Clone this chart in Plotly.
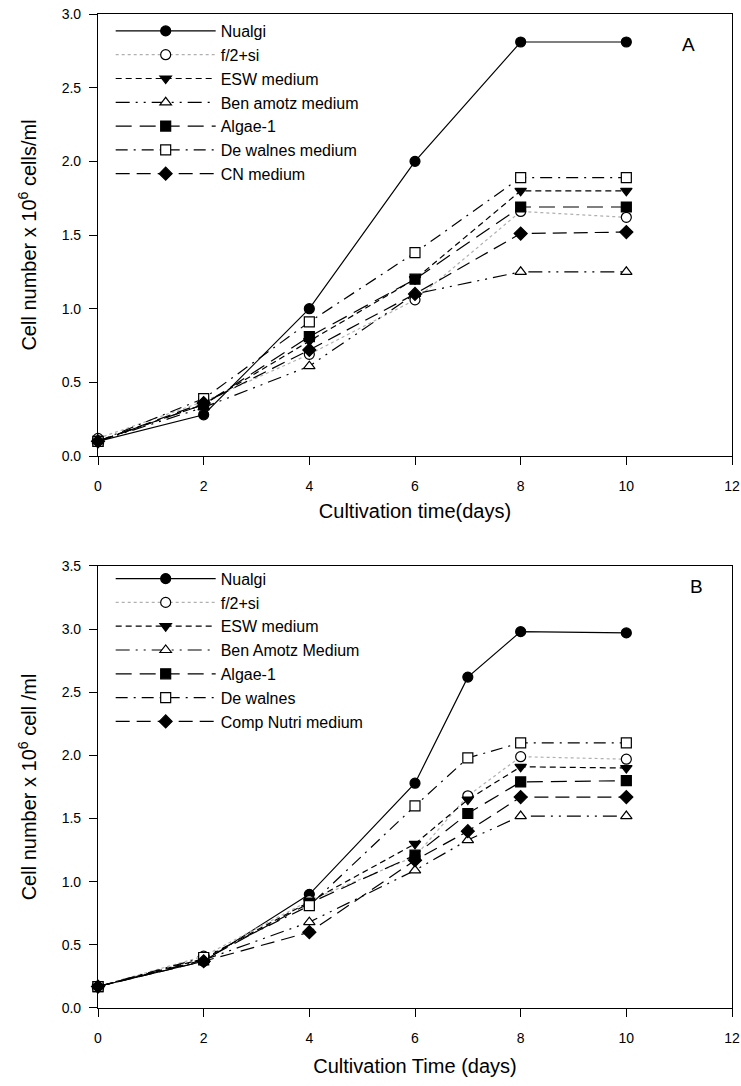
import plotly.graph_objects as go

# ---------------- data ----------------
days_a = [0, 2, 4, 6, 8, 10]
names_a = ["Nualgi", "f/2+si", "ESW medium", "Ben amotz medium", "Algae-1",
           "De walnes medium", "CN medium"]
nualgi_a = [0.10, 0.28, 1.00, 2.00, 2.81, 2.81]
f2si_a = [0.12, 0.37, 0.69, 1.06, 1.66, 1.62]
esw_a = [0.10, 0.35, 0.78, 1.20, 1.80, 1.80]
benamotz_a = [0.10, 0.33, 0.61, 1.10, 1.25, 1.25]
algae1_a = [0.10, 0.35, 0.81, 1.20, 1.69, 1.69]
dewalnes_a = [0.10, 0.39, 0.91, 1.38, 1.89, 1.89]
cn_a = [0.10, 0.36, 0.72, 1.10, 1.51, 1.52]

days_b = [0, 2, 4, 6, 7, 8, 10]
names_b = ["Nualgi", "f/2+si", "ESW medium", "Ben Amotz Medium", "Algae-1",
           "De walnes", "Comp Nutri medium"]
nualgi_b = [0.17, 0.37, 0.90, 1.78, 2.62, 2.98, 2.97]
f2si_b = [0.17, 0.41, 0.85, 1.20, 1.68, 1.99, 1.97]
esw_b = [0.17, 0.39, 0.84, 1.30, 1.65, 1.91, 1.90]
benamotz_b = [0.17, 0.38, 0.68, 1.09, 1.33, 1.52, 1.52]
algae1_b = [0.17, 0.38, 0.83, 1.21, 1.54, 1.79, 1.80]
dewalnes_b = [0.17, 0.40, 0.81, 1.60, 1.98, 2.10, 2.10]
cn_b = [0.17, 0.37, 0.60, 1.17, 1.40, 1.67, 1.67]

x_ticks = [0, 2, 4, 6, 8, 10, 12]
y_ticks_a = [0.0, 0.5, 1.0, 1.5, 2.0, 2.5, 3.0]
y_ticks_b = [0.0, 0.5, 1.0, 1.5, 2.0, 2.5, 3.0, 3.5]

# ---------------- styles ----------------
styles = [
    dict(dash="solid", symbol="circle", fill="black", lcolor="black"),
    dict(dash="dot", symbol="circle", fill="white", lcolor="#b0b0b0"),
    dict(dash="6px,4px", symbol="triangle-down", fill="black", lcolor="black"),
    dict(dash="14px,6px,2px,6px,2px,6px", symbol="triangle-up", fill="white", lcolor="black"),
    dict(dash="16px,8px", symbol="square", fill="black", lcolor="black"),
    dict(dash="12px,6px,2px,6px", symbol="square", fill="white", lcolor="black"),
    dict(dash="14px,7px", symbol="diamond", fill="black", lcolor="black"),
]

FONT = "Liberation Sans, Arial, sans-serif"

fig = go.Figure()

series_a = [nualgi_a, f2si_a, esw_a, benamotz_a, algae1_a, dewalnes_a, cn_a]
series_b = [nualgi_b, f2si_b, esw_b, benamotz_b, algae1_b, dewalnes_b, cn_b]

for name, ys, st in zip(names_a, series_a, styles):
    fig.add_trace(go.Scatter(
        x=days_a, y=ys, name=name, mode="lines+markers",
        line=dict(color=st["lcolor"], width=1.2, dash=st["dash"]),
        marker=dict(symbol=st["symbol"], size=10, color=st["fill"],
                    line=dict(color="black", width=1.2)),
        xaxis="x", yaxis="y", legend="legend", cliponaxis=False))

for name, ys, st in zip(names_b, series_b, styles):
    fig.add_trace(go.Scatter(
        x=days_b, y=ys, name=name, mode="lines+markers",
        line=dict(color=st["lcolor"], width=1.2, dash=st["dash"]),
        marker=dict(symbol=st["symbol"], size=10, color=st["fill"],
                    line=dict(color="black", width=1.2)),
        xaxis="x2", yaxis="y2", legend="legend2", cliponaxis=False))

axis_common = dict(showgrid=False, zeroline=False, showline=True, linecolor="black",
                   linewidth=1.2, mirror=True, ticks="outside", ticklen=8,
                   tickcolor="black", tickwidth=1, ticklabeloverflow="allow",
                   tickfont=dict(family=FONT, size=14, color="black"))

legend_common = dict(font=dict(family=FONT, size=16, color="black"),
                     bgcolor="rgba(0,0,0,0)", itemwidth=100,
                     xanchor="left", yanchor="top", tracegroupgap=0,
                     itemclick=False)

fig.update_layout(
    width=741, height=1086,
    margin=dict(l=98, r=9, t=14, b=78, autoexpand=False),
    paper_bgcolor="white", plot_bgcolor="white",
    font=dict(family=FONT, color="black"),
    xaxis=dict(axis_common, domain=[0, 1], range=[0, 12], tickvals=x_ticks,
               anchor="y", ticklabelstandoff=9,
               title=dict(text="Cultivation time(days)", standoff=11,
                          font=dict(family=FONT, size=20))),
    yaxis=dict(axis_common, domain=[0.5553, 1], range=[0, 3.0], tickvals=y_ticks_a,
               tickformat=".1f", anchor="x", ticklabelstandoff=5,
               title=dict(text="Cell number x 10<sup>6</sup> cells/ml", standoff=19,
                          font=dict(family=FONT, size=20))),
    xaxis2=dict(axis_common, domain=[0, 1], range=[0, 12], tickvals=x_ticks,
                anchor="y2", ticklabelstandoff=9,
                title=dict(text="Cultivation Time (days)", standoff=14,
                           font=dict(family=FONT, size=20))),
    yaxis2=dict(axis_common, domain=[0, 0.4447], range=[0, 3.5], tickvals=y_ticks_b,
                tickformat=".1f", anchor="x2", ticklabelstandoff=5,
                title=dict(text="Cell number x 10<sup>6</sup> cell /ml", standoff=19,
                           font=dict(family=FONT, size=20))),
    legend=dict(legend_common, x=0.02, y=1.0),
    legend2=dict(legend_common, x=0.02, y=0.449),
    annotations=[
        dict(text="A", x=11.17, y=2.79, xref="x", yref="y", showarrow=False,
             font=dict(family=FONT, size=19, color="black")),
        dict(text="B", x=11.33, y=3.34, xref="x2", yref="y2", showarrow=False,
             font=dict(family=FONT, size=19, color="black")),
    ],
)

# remove the default 8px page margin so the figure fills the window exactly
fig.write_html("out.html",
               config={"displayModeBar": False},
               post_script="document.body.style.margin='0';document.body.style.overflow='hidden';")
